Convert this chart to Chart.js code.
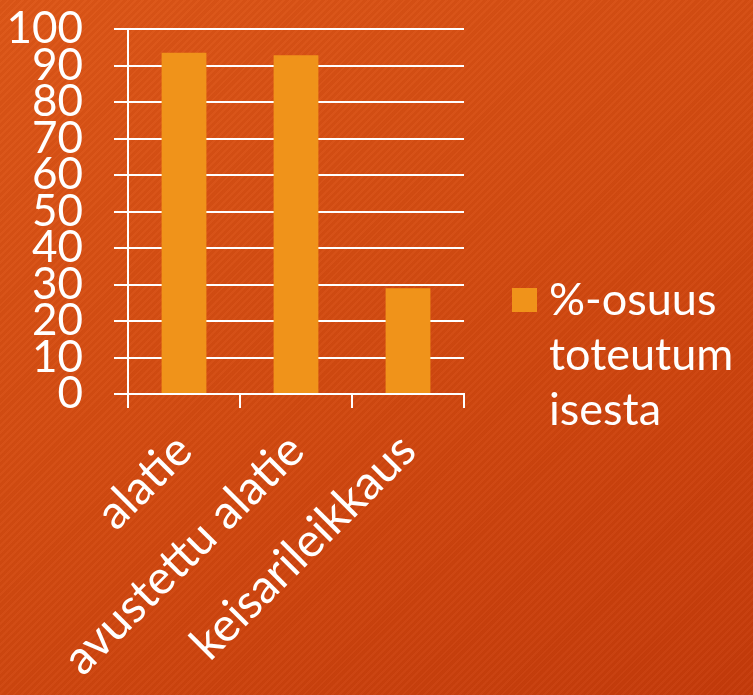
<!DOCTYPE html>
<html>
<head>
<meta charset="utf-8">
<script src="https://cdn.jsdelivr.net/npm/chart.js@4/dist/chart.umd.min.js"></script>
<style>
    html, body {
        margin: 0;
        padding: 0;
    }
    body {
        width: 753px;
        height: 695px;
        background:
            repeating-linear-gradient(135deg, rgba(255, 255, 255, 0.025) 0 2px, rgba(0, 0, 0, 0.025) 2px 5px),
            linear-gradient(150deg, #dd5617 0%, #d24a10 50%, #c53a0a 100%);
    }
    #wrap {
        width: 753px;
        height: 695px;
    }
</style>
</head>
<body>
<div id="wrap"><canvas id="chart"></canvas></div>
<script>
// ==========================================
// Synnytystavat - %-osuus toteutumisesta
// ==========================================

const categories = ['alatie', 'avustettu alatie', 'keisarileikkaus'];
const shares = [93.5, 92.8, 29];
const seriesLabel = ['%-osuus', 'toteutum', 'isesta'];
const yTicks = [0, 10, 20, 30, 40, 50, 60, 70, 80, 90, 100];

const barColor = '#f0931a';
const white = '#ffffff';
const fontFamily = 'Lato, "Open Sans", sans-serif';

// Legend drawn by hand so the label can wrap like the original
const wrappedLegend = {
    id: 'wrappedLegend',
    afterDraw(chart) {
        const { ctx, chartArea } = chart;
        const ds = chart.data.datasets[0];
        const lines = ds.legendLines;
        const lineHeight = 55;
        const x = chartArea.right + 48;
        const firstBaseline = 315;

        ctx.save();
        ctx.fillStyle = ds.backgroundColor;
        ctx.fillRect(x, firstBaseline - 27, 25, 24);

        ctx.fillStyle = white;
        ctx.font = '45px ' + fontFamily;
        ctx.textBaseline = 'alphabetic';
        ctx.textAlign = 'left';
        lines.forEach((line, i) => {
            ctx.fillText(line, x + 37, firstBaseline + i * lineHeight);
        });
        ctx.restore();
    }
};

new Chart(document.getElementById('chart'), {
    type: 'bar',
    data: {
        labels: categories,
        datasets: [{
            label: seriesLabel.join(''),
            legendLines: seriesLabel,
            data: shares,
            backgroundColor: barColor,
            borderWidth: 0,
            categoryPercentage: 1,
            barPercentage: 0.4
        }]
    },
    options: {
        responsive: true,
        maintainAspectRatio: false,
        animation: false,
        layout: {
            padding: { top: 0, right: 289, bottom: 0, left: 0 }
        },
        plugins: {
            legend: { display: false },
            tooltip: { enabled: false }
        },
        scales: {
            x: {
                grid: {
                    display: true,
                    drawOnChartArea: false,
                    color: white,
                    lineWidth: 2,
                    tickLength: 14,
                    offset: true
                },
                border: { color: white, width: 2 },
                ticks: {
                    color: white,
                    font: { family: fontFamily, size: 47, lineHeight: 1 },
                    minRotation: 45,
                    maxRotation: 45,
                    autoSkip: false,
                    padding: 18
                },
                afterFit(scale) {
                    scale.height = 301;
                }
            },
            y: {
                min: 0,
                max: 100,
                grid: {
                    color: white,
                    lineWidth: 2,
                    tickLength: 14
                },
                border: { color: white, width: 2 },
                ticks: {
                    color: white,
                    stepSize: 10,
                    autoSkip: false,
                    padding: 31,
                    font: { family: fontFamily, size: 44, lineHeight: 1 },
                    callback: (value) => yTicks.includes(value) ? value : ''
                },
                afterFit(scale) {
                    scale.width = 128;
                    // tick padding would otherwise push the plot top down
                    scale.paddingTop = 29;
                }
            }
        }
    },
    plugins: [wrappedLegend]
});
</script>
</body>
</html>
